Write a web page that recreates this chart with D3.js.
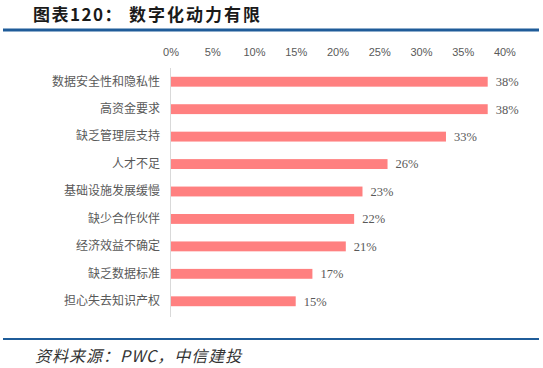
<!DOCTYPE html>
<html><head><meta charset="utf-8">
<script src="https://cdn.jsdelivr.net/npm/d3@7"></script>
<style>body{margin:0;background:#fff}svg{display:block}</style>
</head><body>
<script>
const categories = ["数据安全性和隐私性","高资金要求","缺乏管理层支持","人才不足","基础设施发展缓慢","缺少合作伙伴","经济效益不确定","缺乏数据标准","担心失去知识产权"];
const values = [38,38,33,26,23,22,21,17,15];
const tickValues = [0,5,10,15,20,25,30,35,40];
const titleLabel = "图表120：";
const titleText = "数字化动力有限";
const sourceText = "资料来源：PWC，中信建投";

const W=543,H=368;
const svg=d3.select("body").append("svg").attr("width",W).attr("height",H);
const cjk="'Noto Sans CJK SC','Noto Sans',sans-serif";

svg.append("text").attr("x",33).attr("y",21).attr("font-family",cjk).attr("font-weight","bold")
  .attr("font-size",17).attr("letter-spacing",1.5).attr("fill","#1a1a1a").text(titleLabel);
svg.append("text").attr("x",129).attr("y",21).attr("font-family",cjk).attr("font-weight","bold")
  .attr("font-size",17).attr("letter-spacing",2).attr("fill","#1a1a1a").text(titleText);
svg.append("rect").attr("x",3).attr("y",28.5).attr("width",536).attr("height",3).attr("fill","#1F5C99");
svg.append("rect").attr("x",3).attr("y",338).attr("width",536).attr("height",2).attr("fill","#1F5C99");

const x=d3.scaleLinear().domain([0,40]).range([170.5,504.4]);
const y=d3.scaleBand().domain(categories).range([68,315]).paddingInner(0.64).paddingOuter(0.32);

const xAxis=svg.append("g").attr("transform","translate(0,52)")
  .call(d3.axisTop(x).tickValues(tickValues).tickFormat(d=>d+"%").tickSize(0));
xAxis.select(".domain").remove();
xAxis.selectAll("text").attr("font-family","'Liberation Sans',Arial,sans-serif").attr("font-size",11).attr("fill","#595959").attr("dy","0.32em").attr("y",0);

svg.append("line").attr("x1",x(0)).attr("x2",x(0)).attr("y1",68).attr("y2",317).attr("stroke","#d9d9d9").attr("stroke-width",1);

svg.selectAll("rect.bar").data(values).enter().append("rect").attr("class","bar")
  .attr("x",x(0)+0.5).attr("y",(d,i)=>y(categories[i])).attr("height",y.bandwidth())
  .attr("width",d=>x(d)-x(0)-0.5).attr("fill","#FF8080");

const yAxis=svg.append("g").attr("transform","translate(160,0)")
  .call(d3.axisLeft(y).tickSize(0).tickPadding(0));
yAxis.select(".domain").remove();
yAxis.selectAll("text").attr("font-family",cjk).attr("font-size",12).attr("fill","#595959");

svg.selectAll("text.val").data(values).enter().append("text").attr("class","val")
  .attr("x",d=>x(d)+8).attr("y",(d,i)=>y(categories[i])+y.bandwidth()/2).attr("dy","0.35em")
  .attr("font-family","'Liberation Serif','Times New Roman',serif").attr("font-size",12.5).attr("fill","#595959")
  .text(d=>d+"%");

svg.append("text").attr("x",35).attr("y",362).attr("font-family",cjk).attr("font-style","italic")
  .attr("font-size",16).attr("letter-spacing",1).attr("fill","#333").text(sourceText);
</script>
</body></html>
